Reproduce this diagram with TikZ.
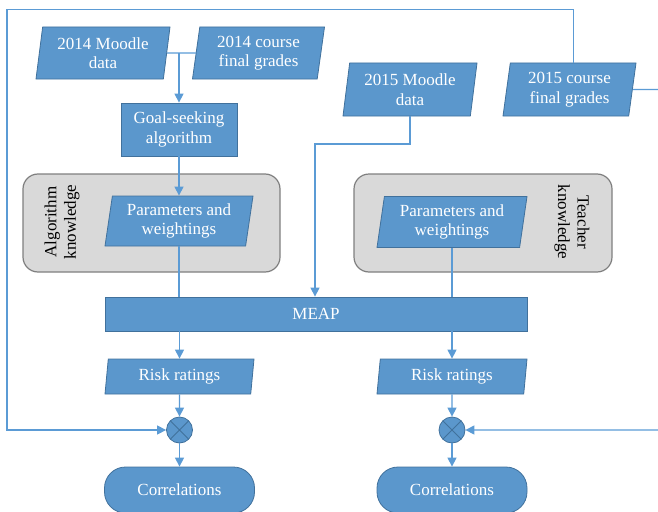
\documentclass[tikz,border=0pt]{standalone}
\usepackage{fontspec}
\setmainfont{Liberation Serif}
\usetikzlibrary{shapes.geometric,arrows.meta,calc}
\definecolor{boxblue}{HTML}{5B97CC}
\definecolor{edgeblue}{HTML}{41719C}
\definecolor{connblue}{HTML}{5B9BD5}
\definecolor{boxgray}{HTML}{D9D9D9}
\definecolor{edgegray}{HTML}{7F7F7F}
\begin{document}
\begin{tikzpicture}[x=1pt,y=-1pt,
  txt/.style={font=\fontsize{17}{19.4}\selectfont, align=center},
  bluefill/.style={fill=boxblue, draw=edgeblue, line width=0.8pt, text=white, txt, inner sep=0pt},
  para/.style={bluefill, trapezium, trapezium left angle=78, trapezium right angle=102,
    trapezium stretches body, minimum height=#1},
  para/.default=52pt,
  rectbox/.style={bluefill, rectangle},
  graybox/.style={rectangle, rounded corners=15pt, fill=boxgray, draw=edgegray, line width=1.2pt},
  endbox/.style={bluefill, rectangle, rounded corners=21pt, minimum width=150pt, minimum height=46pt},
  xcircle/.style={circle, fill=boxblue, draw=edgeblue, line width=0.8pt, minimum size=26pt, inner sep=0pt,
    path picture={\draw[edgeblue, line width=0.8pt]
      (path picture bounding box.south west) -- (path picture bounding box.north east)
      (path picture bounding box.north west) -- (path picture bounding box.south east);}},
  conn/.style={draw=connblue, line width=1.3pt},
  arr/.style={conn, -{Triangle[length=9pt,width=9pt]}}
]
\useasboundingbox (0,0) rectangle (658,511);
\clip (0,0) rectangle (658,511);

% knowledge containers
\node[graybox, minimum width=257pt, minimum height=98pt] (kb1) at (151.5,223) {};
\node[graybox, minimum width=258pt, minimum height=98pt] (kb2) at (483,223) {};
\node[txt, rotate=90] (alg) at (62,222) {Algorithm\\knowledge};
\node[txt, rotate=-90] (tch) at (572,222) {Teacher\\knowledge};

% data inputs
\node[para, minimum width=134pt] (m14) at (103,53) {2014 Moodle\\data};
\node[para, minimum width=132pt] (g14) at (258.5,53) {2014 course\\final grades};
\node[para=53pt, minimum width=134pt] (m15) at (410,89.5) {2015 Moodle\\data};
\node[para=53pt, minimum width=133pt] (g15) at (569.5,89.5) {2015 course\\final grades};

% processing
\node[rectbox, minimum width=116pt, minimum height=53pt] (goal) at (179,129.5) {Goal-seeking\\algorithm};
\node[para=50pt, minimum width=148pt] (p1) at (179,221) {Parameters and\\weightings};
\node[para=51pt, minimum width=150pt] (p2) at (452,222) {Parameters and\\weightings};
\node[rectbox, minimum width=422pt, minimum height=34pt] (meap) at (316,314) {MEAP};
\node[para=35pt, minimum width=149pt] (r1) at (179.5,376.5) {Risk ratings};
\node[para=35pt, minimum width=150pt] (r2) at (452,376.5) {Risk ratings};
\node[xcircle] (c1) at (179.5,430) {};
\node[xcircle] (c2) at (452,430) {};
\node[endbox] (k1) at (179.5,490) {Correlations};
\node[endbox] (k2) at (452,490) {Correlations};

% routing points
\coordinate (lt) at (7,9.5);
\coordinate (jm) at (315,144);
\coordinate (rt) at (666,89.5);

% connectors
\draw[conn] (m14.east) -- (g14.west);
\draw[arr] (goal.north |- m14.east) -- (goal.north);
\draw[arr] (goal.south) -- (goal.south |- p1.north);
\draw[conn] (p1.south) -- (p1.south |- meap.north);
\draw[conn] (p2.south) -- (p2.south |- meap.north);
\draw[arr] (m15.south) |- (jm) -- (jm |- meap.north);
\draw[arr] (r1.north |- meap.south) -- (r1.north);
\draw[arr] (r2.north |- meap.south) -- (r2.north);
\draw[arr] (r1.south) -- (c1.north);
\draw[arr] (r2.south) -- (c2.north);
\draw[arr] (c1.south) -- (k1.north);
\draw[arr] (c2.south) -- (k2.north);
\draw[arr] (g15.top side) |- (lt) |- (c1.west);
\draw[arr] (g15.east) -- (rt) |- (c2.east);
\end{tikzpicture}
\end{document}
